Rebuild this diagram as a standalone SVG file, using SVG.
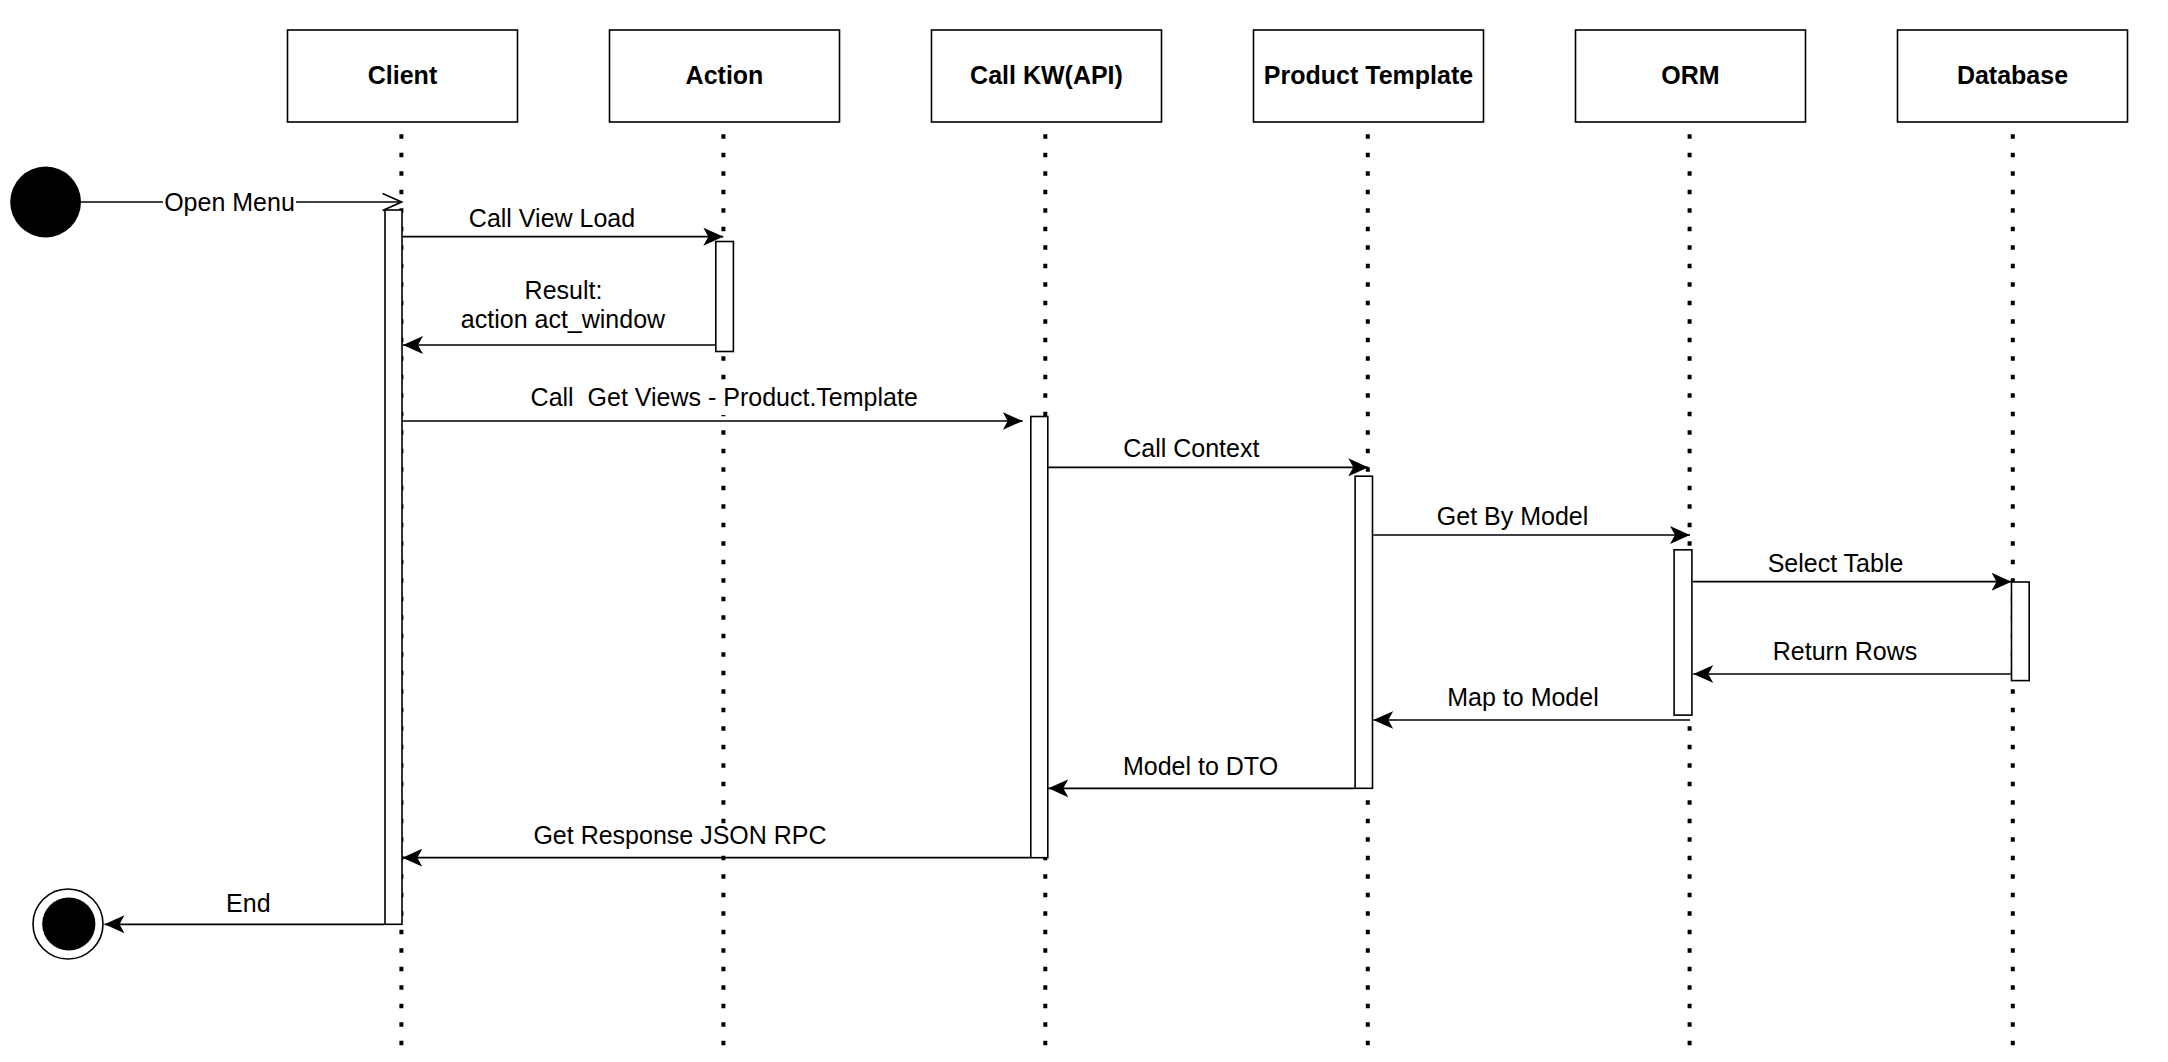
<svg xmlns="http://www.w3.org/2000/svg" width="2168" height="1062" viewBox="0 0 2168 1062">
<style>
  .box{fill:#fff;stroke:#000;stroke-width:1.6}
  .head{font-family:"Liberation Sans",Arial,sans-serif;font-size:25px;font-weight:bold;text-anchor:middle;fill:#000}
  .life{stroke:#000;stroke-width:4;stroke-dasharray:4.4 14.1;fill:none}
  .act{fill:#fff;stroke:#000;stroke-width:1.6}
  .msg{stroke:#000;stroke-width:1.7;fill:none;marker-end:url(#arr)}
  .lbl{font-family:"Liberation Sans",Arial,sans-serif;font-size:25px;text-anchor:middle;fill:#000}
  .bg{fill:#fff}
</style>
<defs>
  <marker id="arr" markerUnits="userSpaceOnUse" viewBox="0 0 20 18" refX="20" refY="9" markerWidth="20" markerHeight="18" orient="auto">
    <path d="M0,0 L20,9 L0,18 L5,9 Z" fill="#000"/>
  </marker>
  <marker id="open" markerUnits="userSpaceOnUse" viewBox="-1 -1 21 20" refX="19" refY="9" markerWidth="21" markerHeight="20" orient="auto" overflow="visible">
    <path d="M0,0.5 L19,9 L0,17.5" fill="none" stroke="#000" stroke-width="1.7"/>
  </marker>
</defs>
<rect width="2168" height="1062" fill="#fff"/>

<g id="lifelines">
  <line class="life" x1="401.4" y1="134.3" x2="401.4" y2="1046"/>
  <line class="life" x1="723.4" y1="134.3" x2="723.4" y2="1046"/>
  <line class="life" x1="1045.3" y1="134.3" x2="1045.3" y2="1046"/>
  <line class="life" x1="1367.8" y1="134.3" x2="1367.8" y2="1046"/>
  <line class="life" x1="1689.6" y1="134.3" x2="1689.6" y2="1046"/>
  <line class="life" x1="2012.8" y1="134.3" x2="2012.8" y2="1046"/>
</g>

<g id="client">
  <rect class="box" x="287.5" y="30" width="230" height="92"/>
  <text class="head" x="402.5" y="84">Client</text>
  <rect class="act" x="385" y="210" width="17" height="714.3"/>
</g>
<g id="action">
  <rect class="box" x="609.5" y="30" width="230" height="92"/>
  <text class="head" x="724.5" y="84">Action</text>
  <rect class="act" x="715.8" y="241.5" width="17.6" height="110"/>
</g>
<g id="callkw">
  <rect class="box" x="931.5" y="30" width="230" height="92"/>
  <text class="head" x="1046.5" y="84">Call KW(API)</text>
  <rect class="act" x="1030.8" y="416.5" width="17" height="441.2"/>
</g>
<g id="product-template">
  <rect class="box" x="1253.5" y="30" width="230" height="92"/>
  <text class="head" x="1368.5" y="84">Product Template</text>
  <rect class="act" x="1355.1" y="476.2" width="17.4" height="312.1"/>
</g>
<g id="orm">
  <rect class="box" x="1575.5" y="30" width="230" height="92"/>
  <text class="head" x="1690.5" y="84">ORM</text>
  <rect class="act" x="1674.1" y="549.8" width="17.8" height="165.3"/>
</g>
<g id="database">
  <rect class="box" x="1897.5" y="30" width="230" height="92"/>
  <text class="head" x="2012.5" y="84">Database</text>
  <rect class="act" x="2011.5" y="582" width="17.7" height="98.6"/>
</g>

<g id="start">
  <circle cx="45.6" cy="202" r="35.4" fill="#000"/>
</g>
<g id="end">
  <circle cx="68" cy="924" r="35" fill="#fff" stroke="#000" stroke-width="1.6"/>
  <circle cx="68.8" cy="924" r="26.6" fill="#000"/>
</g>

<g id="connectors">
  <line x1="81" y1="202" x2="401.6" y2="202" stroke="#000" stroke-width="1.7" marker-end="url(#open)"/>
  <rect class="bg" x="163" y="188" width="133" height="28"/>
  <text class="lbl" x="229.5" y="211">Open Menu</text>

  <line class="msg" x1="402.3" y1="236.7" x2="723.3" y2="236.7"/>
  <text class="lbl" x="552" y="226.7">Call View Load</text>

  <line class="msg" x1="715" y1="345" x2="403" y2="345"/>
  <text class="lbl" x="563.5" y="299.3">Result:</text>
  <text class="lbl" x="563" y="328.3">action act_window</text>

  <line class="msg" x1="402.3" y1="421" x2="1022.7" y2="421"/>
  <rect class="bg" x="527" y="387" width="394" height="28"/>
  <text class="lbl" x="724.2" y="406.4" xml:space="preserve">Call  Get Views - Product.Template</text>

  <line class="msg" x1="1048.3" y1="467.3" x2="1368.3" y2="467.3"/>
  <text class="lbl" x="1191.3" y="456.7">Call Context</text>

  <line class="msg" x1="1373.3" y1="535" x2="1690" y2="535"/>
  <text class="lbl" x="1512.6" y="525">Get By Model</text>

  <line class="msg" x1="1692.7" y1="581.7" x2="2011.5" y2="581.7"/>
  <text class="lbl" x="1835.5" y="571.7">Select Table</text>

  <line class="msg" x1="2010.7" y1="674" x2="1693.3" y2="674"/>
  <text class="lbl" x="1845" y="660">Return Rows</text>

  <line class="msg" x1="1690" y1="720" x2="1373.3" y2="720"/>
  <text class="lbl" x="1523" y="706.4">Map to Model</text>

  <line class="msg" x1="1354.3" y1="788.3" x2="1048.3" y2="788.3"/>
  <text class="lbl" x="1200.5" y="774.8">Model to DTO</text>

  <line class="msg" x1="1030" y1="857.7" x2="402.3" y2="857.7"/>
  <rect class="bg" x="530" y="825" width="300" height="28"/>
  <text class="lbl" x="680" y="844.2">Get Response JSON RPC</text>

  <line class="msg" x1="384.3" y1="924.3" x2="104.5" y2="924.3"/>
  <text class="lbl" x="248.3" y="911.7">End</text>
</g>
</svg>
